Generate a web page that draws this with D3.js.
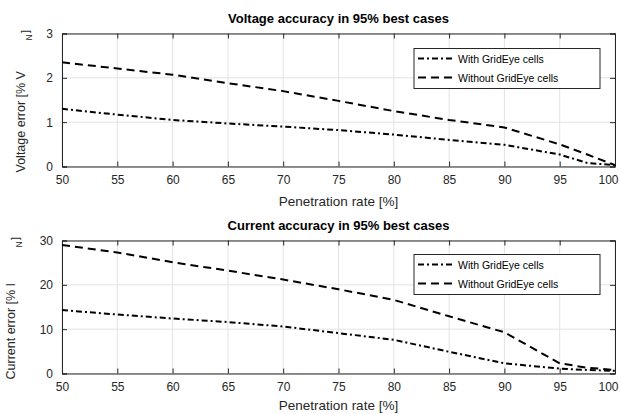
<!DOCTYPE html>
<html><head><meta charset="utf-8">
<script src="https://cdn.jsdelivr.net/npm/d3@7"></script>
<style>body{margin:0;background:#fff}svg{display:block}text{font-family:"Liberation Sans",Arial,sans-serif}</style>
</head><body><svg id="c" width="621" height="414"></svg>
<script>
const penetration = [50,55,60,65,70,75,80,85,90,95,97.5,100];
const voltageWith    = [1.30,1.17,1.05,0.97,0.90,0.82,0.72,0.60,0.49,0.27,0.08,0.03];
const voltageWithout = [2.35,2.21,2.07,1.88,1.70,1.48,1.25,1.05,0.88,0.50,0.27,0.03];
const currentWith    = [14.3,13.3,12.4,11.6,10.6,9.1,7.6,4.9,2.3,1.1,0.8,0.6];
const currentWithout = [29.0,27.3,25.1,23.2,21.2,19.0,16.6,12.9,9.3,2.3,1.3,0.8];
const xTicks = [50,55,60,65,70,75,80,85,90,95,100];
const vTicks = [0,1,2,3];
const iTicks = [0,10,20,30];
const legendLabels = ["With GridEye cells","Without GridEye cells"];
const dashStyles = ["6,3,2,3","8,5"];

const svg = d3.select("#c");
const L = 62, R = 615;
const axC = "#262626";

function panel(cfg){
  const x = d3.scaleLinear().domain([50,100]).range([L,R]);
  const y = d3.scaleLinear().domain(cfg.yDomain).range([cfg.bottom,cfg.top]);
  const g = svg.append("g");
  g.selectAll(".gx").data(xTicks).join("line").attr("x1",d=>x(d)).attr("x2",d=>x(d))
   .attr("y1",cfg.top).attr("y2",cfg.bottom).attr("stroke","#e3e3e3").attr("stroke-width",1);
  g.selectAll(".gy").data(cfg.yTicks).join("line").attr("y1",d=>y(d)).attr("y2",d=>y(d))
   .attr("x1",L).attr("x2",R).attr("stroke","#e3e3e3").attr("stroke-width",1);
  const xa = g.append("g").attr("transform",`translate(0,${cfg.bottom})`)
    .call(d3.axisBottom(x).tickValues(xTicks).tickSize(-5).tickPadding(9).tickFormat(d3.format("d")));
  const xt = g.append("g").attr("transform",`translate(0,${cfg.top})`)
    .call(d3.axisTop(x).tickValues(xTicks).tickSize(-5).tickFormat(""));
  const ya = g.append("g").attr("transform",`translate(${L},0)`)
    .call(d3.axisLeft(y).tickValues(cfg.yTicks).tickSize(-5).tickPadding(9).tickFormat(d3.format("d")));
  const yr = g.append("g").attr("transform",`translate(${R},0)`)
    .call(d3.axisRight(y).tickValues(cfg.yTicks).tickSize(-5).tickFormat(""));
  [xa,xt,ya,yr].forEach(a=>{
    a.select(".domain").attr("stroke",axC).attr("stroke-width",1);
    a.selectAll(".tick line").attr("stroke",axC);
    a.selectAll("text").attr("fill","#262626").style("font-size","12px").style("font-family","Liberation Sans, Arial, sans-serif");
  });
  xa.selectAll(".tick text").filter(d=>d===100).attr("dx",-7);
  const line = d3.line().x((d,i)=>x(penetration[i])).y(d=>y(d));
  cfg.series.forEach((s,k)=>{
    g.append("path").attr("d",line(s)).attr("fill","none").attr("stroke","#000")
     .attr("stroke-width",2).attr("stroke-dasharray",dashStyles[k]);
  });
  g.append("text").attr("x",(L+R)/2).attr("y",cfg.top-11).attr("text-anchor","middle")
   .style("font-size","13px").style("font-weight","bold").attr("fill","#000").text(cfg.title);
  g.append("text").attr("x",(L+R)/2).attr("y",cfg.bottom+cfg.xlOff).attr("text-anchor","middle")
   .style("font-size","13.5px").attr("fill","#262626").text("Penetration rate [%]");
  g.append("text").attr("transform",`translate(${cfg.ylx},${cfg.bottom+6}) rotate(-90)`)
   .attr("text-anchor","start").style("font-size","12.5px").attr("fill","#262626").text(cfg.ylabel);
  g.append("text").attr("transform",`translate(${cfg.ylx+4},${cfg.top-2}) rotate(-90)`)
   .attr("text-anchor","middle").style("font-size","11px").attr("fill","#262626").text("]");
  g.append("text").attr("transform",`translate(${cfg.ylx+7},${cfg.top+4}) rotate(-90)`)
   .attr("text-anchor","middle").style("font-size","8.5px").attr("fill","#262626").text("N");
  const lx = 414, lw = 186, ly = cfg.top+cfg.legOff, lh = 40;
  g.append("rect").attr("x",lx).attr("y",ly).attr("width",lw).attr("height",lh)
   .attr("fill","#fff").attr("stroke",axC).attr("stroke-width",1);
  legendLabels.forEach((t,k)=>{
    const yy = ly + 10 + k*19;
    g.append("line").attr("x1",lx+4).attr("x2",lx+40).attr("y1",yy).attr("y2",yy)
     .attr("stroke","#000").attr("stroke-width",2).attr("stroke-dasharray",dashStyles[k]);
    g.append("text").attr("x",lx+44).attr("y",yy+4).style("font-size","10.5px").attr("fill","#000").text(t);
  });
}

panel({top:33.5,bottom:166.5,yDomain:[0,3],yTicks:vTicks,series:[voltageWith,voltageWithout],
  title:"Voltage accuracy in 95% best cases",ylabel:"Voltage error [% V",ylx:25,legOff:15,xlOff:39});
panel({top:240.5,bottom:373.5,yDomain:[0,30],yTicks:iTicks,series:[currentWith,currentWithout],
  title:"Current accuracy in 95% best cases",ylabel:"Current error [% I",ylx:15,legOff:14,xlOff:36});
</script></body></html>
